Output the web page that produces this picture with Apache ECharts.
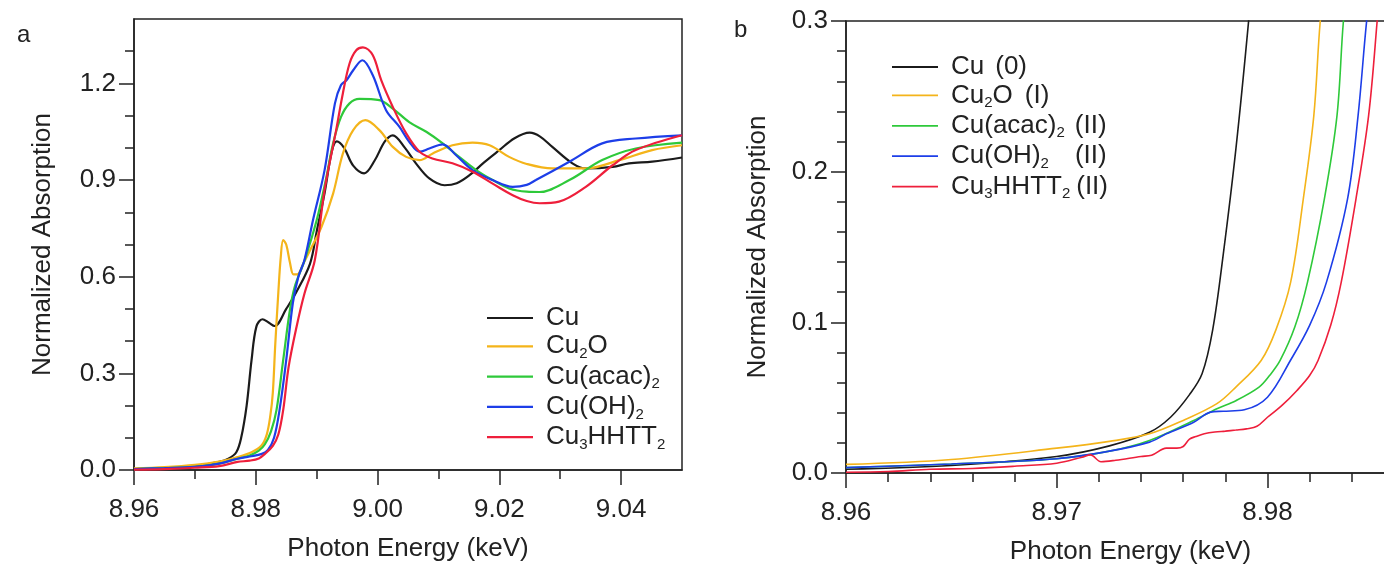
<!DOCTYPE html>
<html>
<head>
<meta charset="utf-8">
<script src="https://cdn.jsdelivr.net/npm/echarts@6/dist/echarts.min.js"></script>
<style>
  html, body { margin: 0; padding: 0; background: #fff; }
  #chart { width: 1384px; height: 565px; }
</style>
</head>
<body>
<div id="chart"></div>
<script>
// Cu K-edge XANES spectra: [photon energy (keV), normalized absorption]

// Panel a: full XANES range
const cuFoil = [[8.96,0.003],[8.965,0.006],[8.97,0.012],[8.974,0.025],[8.9755,0.035],[8.9768,0.055],[8.9776,0.1],[8.9785,0.2],[8.9793,0.34],[8.9801,0.445],[8.9811,0.468],[8.9821,0.458],[8.9831,0.447],[8.985,0.5],[8.9866,0.55],[8.9889,0.64],[8.99,0.74],[8.9913,0.86],[8.9925,0.99],[8.9933,1.02],[8.9945,1.0],[8.996,0.945],[8.9978,0.921],[8.9995,0.96],[9.0012,1.02],[9.0025,1.039],[9.0045,1.0],[9.0063,0.952],[9.0085,0.905],[9.011,0.884],[9.013,0.89],[9.0151,0.915],[9.0175,0.955],[9.02,0.993],[9.0225,1.03],[9.025,1.047],[9.0267,1.035],[9.0287,1.003],[9.032,0.952],[9.0342,0.936],[9.0386,0.941],[9.0413,0.952],[9.0451,0.957],[9.05,0.97]];
const cu2o = [[8.96,0.005],[8.965,0.009],[8.97,0.016],[8.974,0.026],[8.977,0.04],[8.9793,0.055],[8.9809,0.075],[8.9818,0.11],[8.9824,0.17],[8.9828,0.24],[8.9832,0.39],[8.9837,0.55],[8.9841,0.66],[8.9845,0.714],[8.985,0.7],[8.9856,0.645],[8.9862,0.607],[8.9868,0.607],[8.9878,0.64],[8.989,0.685],[8.9908,0.755],[8.9927,0.858],[8.9943,0.982],[8.996,1.055],[8.998,1.086],[9.0003,1.055],[9.0025,1.003],[9.0047,0.972],[9.0069,0.962],[9.009,0.982],[9.0123,1.008],[9.0156,1.016],[9.0184,1.008],[9.0216,0.972],[9.0245,0.95],[9.0287,0.936],[9.0342,0.936],[9.0397,0.962],[9.0451,0.993],[9.05,1.008]];
const cuAcac2 = [[8.96,0.003],[8.965,0.006],[8.97,0.01],[8.974,0.02],[8.977,0.035],[8.979,0.045],[8.9805,0.06],[8.9815,0.08],[8.9825,0.12],[8.9834,0.186],[8.9845,0.341],[8.9856,0.496],[8.9864,0.569],[8.988,0.65],[8.99,0.775],[8.9915,0.9],[8.9927,1.014],[8.994,1.096],[8.9954,1.138],[8.997,1.152],[9.0003,1.148],[9.0025,1.122],[9.0052,1.08],[9.008,1.05],[9.0107,1.014],[9.0134,0.972],[9.0162,0.931],[9.0189,0.9],[9.0216,0.874],[9.0245,0.864],[9.0266,0.863],[9.0315,0.9],[9.0369,0.962],[9.0424,0.998],[9.05,1.016]];
const cuOH2 = [[8.96,0.003],[8.965,0.006],[8.97,0.01],[8.974,0.02],[8.977,0.035],[8.979,0.042],[8.981,0.05],[8.982,0.062],[8.983,0.1],[8.9839,0.186],[8.985,0.341],[8.9861,0.52],[8.987,0.6],[8.988,0.652],[8.9894,0.776],[8.9913,0.931],[8.993,1.138],[8.994,1.195],[8.9949,1.21],[8.996,1.241],[8.9975,1.272],[8.9992,1.226],[9.0014,1.117],[9.0036,1.065],[9.0052,1.019],[9.0069,0.988],[9.0085,0.998],[9.0107,1.011],[9.0129,0.977],[9.0156,0.931],[9.0189,0.9],[9.0222,0.879],[9.0245,0.885],[9.026,0.9],[9.0315,0.957],[9.0369,1.014],[9.0424,1.029],[9.05,1.039]];
const cu3hhtt2 = [[8.96,0.001],[8.965,0.003],[8.97,0.007],[8.974,0.012],[8.977,0.025],[8.979,0.029],[8.9805,0.036],[8.9815,0.05],[8.9828,0.075],[8.9837,0.11],[8.9845,0.186],[8.9854,0.321],[8.9867,0.445],[8.988,0.548],[8.9897,0.652],[8.9913,0.87],[8.9932,1.055],[8.9943,1.169],[8.9954,1.262],[8.9965,1.303],[8.9976,1.312],[8.9992,1.288],[9.0006,1.21],[9.0025,1.127],[9.0047,1.045],[9.0069,0.988],[9.009,0.967],[9.0123,0.952],[9.0156,0.926],[9.0189,0.889],[9.0222,0.853],[9.0245,0.835],[9.0266,0.828],[9.0298,0.833],[9.0342,0.879],[9.0386,0.946],[9.0424,0.993],[9.05,1.039]];

// Panel b: pre-edge region
const preCuFoil = [[8.96,0.0025],[8.965,0.005],[8.97,0.011],[8.9725,0.018],[8.9744,0.027],[8.9754,0.037],[8.9763,0.052],[8.9769,0.066],[8.9774,0.095],[8.9779,0.145],[8.9785,0.215],[8.9791,0.2993],[8.9792,0.32]];
const preCu2o = [[8.96,0.0057],[8.965,0.009],[8.97,0.0165],[8.9725,0.021],[8.9744,0.026],[8.976,0.0349],[8.9776,0.046],[8.9785,0.057],[8.9797,0.0747],[8.9804,0.095],[8.9811,0.1267],[8.9817,0.182],[8.9822,0.2374],[8.9825,0.2993],[8.9827,0.32]];
const preCuAcac2 = [[8.96,0.0036],[8.965,0.006],[8.97,0.0095],[8.9725,0.0145],[8.9744,0.0216],[8.9765,0.0349],[8.9776,0.0426],[8.9785,0.048],[8.9796,0.057],[8.9801,0.0647],[8.9806,0.0747],[8.9813,0.097],[8.9819,0.1267],[8.9827,0.182],[8.9833,0.2374],[8.9836,0.2993],[8.9838,0.32]];
const preCuOH2 = [[8.96,0.0036],[8.965,0.006],[8.97,0.0095],[8.9725,0.0145],[8.9744,0.0205],[8.9752,0.026],[8.9765,0.0337],[8.9773,0.0404],[8.9779,0.041],[8.9789,0.042],[8.98,0.0503],[8.9811,0.075],[8.982,0.098],[8.9828,0.1267],[8.9838,0.182],[8.9843,0.2374],[8.9847,0.2993],[8.9849,0.32]];
const preCu3hhtt2 = [[8.96,0.0005],[8.962,0.001],[8.964,0.0025],[8.966,0.003],[8.968,0.0045],[8.97,0.0065],[8.9712,0.0105],[8.9716,0.012],[8.9721,0.0075],[8.9728,0.0085],[8.974,0.011],[8.9745,0.0118],[8.9752,0.0165],[8.9757,0.0165],[8.976,0.0176],[8.9763,0.0225],[8.9766,0.0242],[8.977,0.026],[8.9775,0.0272],[8.978,0.0278],[8.9785,0.0285],[8.979,0.0293],[8.9795,0.031],[8.98,0.037],[8.9807,0.045],[8.9814,0.0548],[8.982,0.0647],[8.9824,0.0747],[8.983,0.098],[8.9835,0.1267],[8.9842,0.182],[8.9848,0.2374],[8.9852,0.2993],[8.9853,0.32]];

// Legend labels (digits in the formula part are subscripts)
const namesA = ['Cu', 'Cu2O', 'Cu(acac)2', 'Cu(OH)2', 'Cu3HHTT2'];
const statesB = ['(0)', '(I)', '(II)', '(II)', '(II)'];
const colors = ['#1b1b1b', '#f4b41a', '#2ec93a', '#1d3ee8', '#ee1f3b'];

// Tick values
const ticksAX = [8.96, 8.98, 9.00, 9.02, 9.04];
const ticksAY = [0.0, 0.3, 0.6, 0.9, 1.2];
const ticksBX = [8.96, 8.97, 8.98];
const ticksBY = [0.0, 0.1, 0.2, 0.3];

const seriesA = [cuFoil, cu2o, cuAcac2, cuOH2, cu3hhtt2];
const seriesB = [preCuFoil, preCu2o, preCuAcac2, preCuOH2, preCu3hhtt2];
const namesB = namesA.map((n, i) => n + ' ' + statesB[i]);
const gapsB = [11, 12, 10, 26, 6];

const FONT = 'Liberation Sans, Arial, Helvetica, sans-serif';
const INK = '#222';

function formulaRich(f) {
  return '{n|' + f.replace(/(\d)/g, '}{s|$1}{n|') + '}';
}
const richText = {
  n: { fontSize: 26, fontFamily: FONT, color: INK, lineHeight: 30 },
  s: { fontSize: 15, fontFamily: FONT, color: INK, lineHeight: 3, verticalAlign: 'bottom' },
  g0: { width: gapsB[0], lineHeight: 30 },
  g1: { width: gapsB[1], lineHeight: 30 },
  g2: { width: gapsB[2], lineHeight: 30 },
  g3: { width: gapsB[3], lineHeight: 30 },
  g4: { width: gapsB[4], lineHeight: 30 }
};

function valueAxis(opts) {
  return Object.assign({
    type: 'value',
    nameLocation: 'middle',
    nameTextStyle: { fontSize: 26, fontFamily: FONT, color: INK },
    axisLine: { show: true, onZero: false, lineStyle: { color: INK, width: 1.5 } },
    splitLine: { show: false },
    minorSplitLine: { show: false }
  }, opts);
}
function ticks(values) {
  return { show: true, length: 15, customValues: values, lineStyle: { color: INK, width: 1.5 } };
}
function minor(n) {
  return { show: true, splitNumber: n, length: 9, lineStyle: { color: INK, width: 1.5 } };
}
function labels(values, digits, margin) {
  return { fontSize: 26, fontFamily: FONT, color: INK, margin: margin, customValues: values, formatter: v => v.toFixed(digits) };
}

const chart = echarts.init(document.getElementById('chart'), null, { renderer: 'canvas' });

const series = [];
seriesA.forEach((d, i) => series.push({
  name: namesA[i], type: 'line', xAxisIndex: 0, yAxisIndex: 0,
  data: d, symbol: 'none', smooth: 0.35, color: colors[i],
  lineStyle: { width: 2.2, color: colors[i] }, z: 3 + i
}));
seriesB.forEach((d, i) => series.push({
  name: namesB[i], type: 'line', xAxisIndex: 1, yAxisIndex: 1,
  data: d, symbol: 'none', smooth: 0.35, color: colors[i], clip: true,
  lineStyle: { width: 1.6, color: colors[i] }, z: 3 + i
}));

const titleStyle = { fontSize: 24, fontWeight: 'normal', fontFamily: FONT, color: INK };

chart.setOption({
  animation: false,
  backgroundColor: '#fff',
  title: [
    { text: 'a', left: 12, top: 18, textStyle: titleStyle },
    { text: 'b', left: 729, top: 13, textStyle: titleStyle }
  ],
  grid: [
    { left: 134, top: 19, width: 548, height: 451, show: true, borderColor: INK, borderWidth: 1.5,
      backgroundColor: 'transparent', outerBoundsMode: 'none' },
    { left: 846, top: 21, width: 569, height: 452, show: true, borderColor: INK, borderWidth: 1.5,
      backgroundColor: 'transparent', outerBoundsMode: 'none' }
  ],
  xAxis: [
    valueAxis({
      gridIndex: 0, min: 8.96, max: 9.05, interval: 0.02,
      name: 'Photon Energy (keV)', nameGap: 66,
      axisTick: ticks(ticksAX), minorTick: minor(2), axisLabel: labels(ticksAX, 2, 27)
    }),
    valueAxis({
      gridIndex: 1, min: 8.96, max: 8.987, interval: 0.01,
      name: 'Photon Energy (keV)', nameGap: 66,
      axisTick: ticks(ticksBX), minorTick: minor(5), axisLabel: labels(ticksBX, 2, 27)
    })
  ],
  yAxis: [
    valueAxis({
      gridIndex: 0, min: 0, max: 1.4, interval: 0.3,
      name: 'Normalized Absorption', nameGap: 78,
      axisTick: ticks(ticksAY), minorTick: minor(3), axisLabel: labels(ticksAY, 1, 18)
    }),
    valueAxis({
      gridIndex: 1, min: 0, max: 0.3, interval: 0.1,
      name: 'Normalized Absorption', nameGap: 75,
      axisTick: ticks(ticksBY), minorTick: minor(5), axisLabel: labels(ticksBY, 1, 18)
    })
  ],
  legend: [
    {
      data: namesA, orient: 'vertical', left: 487, top: 305, padding: 0,
      icon: 'rect', itemWidth: 46, itemHeight: 2.2, itemGap: 2.3,
      itemStyle: { borderWidth: 0 },
      selectedMode: false,
      textStyle: { padding: [0, 0, 0, 8], rich: richText },
      formatter: name => formulaRich(name)
    },
    {
      data: namesB, orient: 'vertical', left: 892, top: 54, padding: 0,
      icon: 'rect', itemWidth: 46, itemHeight: 1.8, itemGap: 2.4,
      itemStyle: { borderWidth: 0 },
      selectedMode: false,
      textStyle: { padding: [0, 0, 0, 8], rich: richText },
      formatter: name => {
        const i = namesB.indexOf(name);
        return formulaRich(namesA[i]) + '{g' + i + '| }{n|' + statesB[i] + '}';
      }
    }
  ],
  series: series
});
</script>
</body>
</html>
